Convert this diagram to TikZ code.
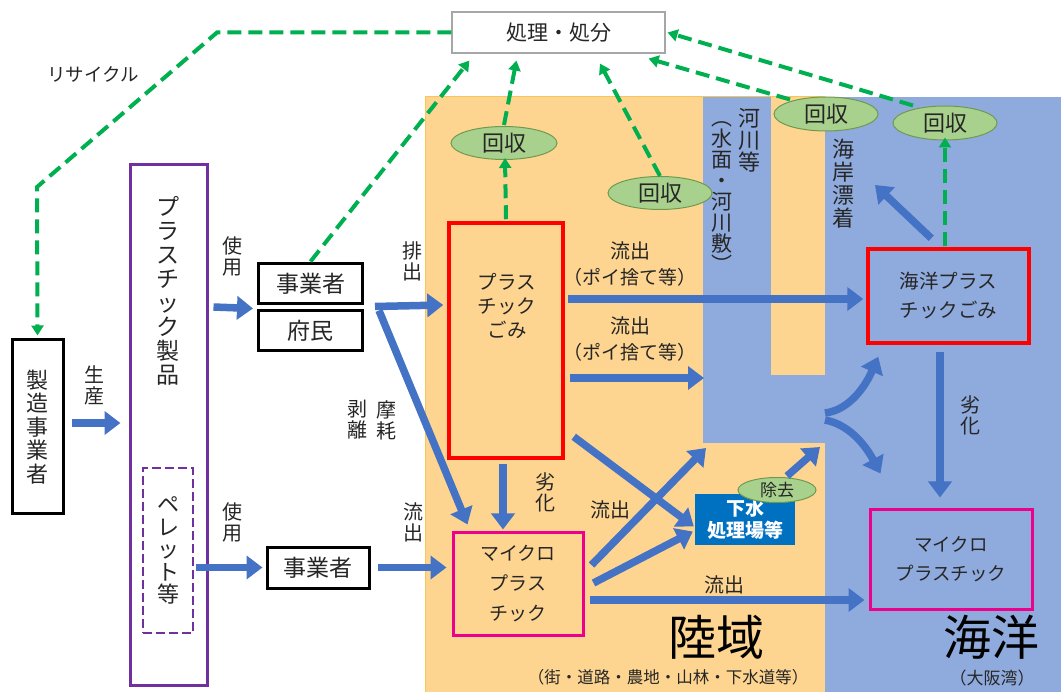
\documentclass[tikz,border=0pt]{standalone}
\usepackage{fontspec}
\setmainfont{Noto Sans CJK JP}
\usetikzlibrary{arrows.meta,calc,shapes.geometric}
\definecolor{landc}{HTML}{FED590}
\definecolor{landedge}{HTML}{F5C75A}
\definecolor{seac}{HTML}{8FAADC}
\definecolor{arrowblue}{HTML}{4472C4}
\definecolor{recgreen}{HTML}{00B050}
\definecolor{ellfill}{HTML}{A9D18E}
\definecolor{ellgreen}{HTML}{6F9A4E}
\definecolor{gesuiblue}{HTML}{0070C0}
\definecolor{purp}{HTML}{7030A0}
\definecolor{txt}{HTML}{262626}
\begin{document}
\begin{tikzpicture}[x=1pt,y=-1pt,
  barrow/.style={draw=arrowblue, line width=7.5pt, -{Triangle[width=23pt,length=16pt]}},
  garrow/.style={draw=recgreen, line width=4pt, dash pattern=on 14pt off 7pt, -{Triangle[width=12pt,length=10pt]}},
  lbl/.style={font=\fontsize{20}{23}\selectfont, align=center, inner sep=0pt, text=txt},
  vlbl/.style={font=\fontsize{20}{21}\selectfont, align=center, inner sep=0pt, text=txt},
  kaishu/.style={ellipse, draw=ellgreen, fill=ellfill, line width=1pt, minimum width=104pt, minimum height=33pt, inner sep=0pt, font=\fontsize{22}{24}\selectfont, text=txt},
  blackbox/.style={draw=black, line width=3pt, fill=white, inner sep=0pt, font=\fontsize{23}{25}\selectfont, text=txt},
  redbox/.style={draw=red, line width=3.5pt, inner sep=0pt, text=txt},
  magbox/.style={draw=magenta, line width=3pt, inner sep=0pt, text=txt, align=center}
]
\useasboundingbox (0,0) rectangle (1061,692);
% regions
\fill[landc] (425,97) rectangle (825,692);
\draw[landedge, line width=1pt] (425,692) -- (425,97) -- (825,97);
\fill[seac] (825,97) rectangle (1061,692);
\fill[seac] (703,97) rectangle (771,443);
\fill[seac] (771,375) rectangle (825,443);

% nodes
\node[draw=gray!70, line width=1.2pt, fill=white, minimum width=213pt, minimum height=41pt, inner sep=0pt, font=\fontsize{21}{24}\selectfont, text=txt] (shori) at (558.5,32.5) {処理・処分};
\node[blackbox, minimum width=51pt, minimum height=174pt, align=center, font=\fontsize{22}{23.5}\selectfont] (seizo) at (37.5,427) {製\\造\\事\\業\\者};
\node[draw=purp, line width=3pt, minimum width=77pt, minimum height=521pt, inner sep=0pt] (seihin) at (168.5,425) {};
\node[font=\fontsize{23}{24}\selectfont, align=center, inner sep=0pt, text=txt] (seihintxt) at (168,291) {プ\\ラ\\ス\\チ\\ッ\\ク\\製\\品};
\node[draw=purp, line width=2.5pt, dash pattern=on 9pt off 4pt, minimum width=50pt, minimum height=165pt, inner sep=0pt, align=center, font=\fontsize{22}{22.5}\selectfont, text=txt] (pellet) at (168,550.5) {ペ\\レ\\ッ\\ト\\等};
\node[blackbox, minimum width=104pt, minimum height=40pt] (jig1) at (310.5,284) {事業者};
\node[blackbox, minimum width=104pt, minimum height=40pt] (fumin) at (310.5,331) {府民};
\node[blackbox, minimum width=102pt, minimum height=41pt] (jig2) at (318,567.5) {事業者};

\node[redbox, minimum width=114pt, minimum height=235pt] (gomi) at (506,340.5) {};
\node[font=\fontsize{19.5}{24}\selectfont, align=center, inner sep=0pt, text=txt] (gomitxt) at (507,306) {プラス\\チック\\ごみ};
\node[redbox, minimum width=161pt, minimum height=94pt, align=center, font=\fontsize{19.5}{29}\selectfont] (kgomi) at (948.5,296) {海洋プラス\\チックごみ};
\node[magbox, minimum width=130pt, minimum height=102pt, font=\fontsize{19}{30}\selectfont] (micro1) at (518,584) {マイクロ\\プラス\\チック};
\node[magbox, minimum width=162pt, minimum height=99pt, font=\fontsize{18.5}{29}\selectfont] (micro2) at (951,559.5) {マイクロ\\プラスチック};
\node[fill=gesuiblue, minimum width=100pt, minimum height=51pt, inner sep=0pt, align=center, text=white, font=\bfseries\fontsize{19}{22}\selectfont] (gesui) at (745,519.5) {下水\\処理場等};
\node[kaishu, minimum width=78pt, minimum height=25pt, font=\fontsize{17}{18}\selectfont] (jokyo) at (777,490) {除去};

\node[kaishu, minimum width=106pt] (kaishu1) at (504,143) {回収};
\node[kaishu] (kaishu2) at (660,193) {回収};
\node[kaishu, minimum height=34pt] (kaishu3) at (826,114) {回収};
\node[kaishu, minimum height=34pt] (kaishu4) at (945,123) {回収};

% free ends
\coordinate (riverin) at (704,378);
\coordinate (riverb) at (706,448);
\coordinate (riverc) at (820,447);
\coordinate (junc1) at (825,413);
\coordinate (junc2) at (825,420);
\coordinate (coast) at (875,185);
\coordinate (rc1) at (217,32.5);
\coordinate (rc2) at (37,187);

% labels
\node[lbl, font=\fontsize{18.5}{21}\selectfont] (recycle) at (93,74) {リサイクル};
\node[vlbl] (seisan) at (94,385) {生\\産};
\node[vlbl] (shiyo1) at (232,256) {使\\用};
\node[vlbl] (shiyo2) at (232,522) {使\\用};
\node[vlbl] (haishutsu) at (412,261) {排\\出};
\node[vlbl] (ryu0) at (413,522) {流\\出};
\node[vlbl] (mamo) at (386,420) {摩\\耗};
\node[vlbl] (hakuri) at (357,420) {剥\\離};
\node[lbl] (ryu1) at (630,251) {流出};
\node[lbl, font=\fontsize{19}{21}\selectfont] (poi1) at (630,277) {（ポイ捨て等）};
\node[lbl] (ryu2) at (630,326) {流出};
\node[lbl, font=\fontsize{19}{21}\selectfont] (poi2) at (630,352) {（ポイ捨て等）};
\node[vlbl] (rekka1) at (545,492) {劣\\化};
\node[lbl] (ryu3) at (610,510) {流出};
\node[lbl] (ryu4) at (724,585) {流出};
\node[vlbl] (rekka2) at (970,415) {劣\\化};
\node[font=\fontsize{22}{22}\selectfont, align=center, inner sep=0pt, text=txt] (kasen) at (749,140) {河\\川\\等};
\node[font=\fontsize{21}{21}\selectfont, align=center, inner sep=0pt, text=txt] (kasen2) at (722,197) {︵\\水\\面\\・\\河\\川\\敷\\︶};
\node[font=\fontsize{22}{23}\selectfont, align=center, inner sep=0pt, text=txt] (kaigan) at (843,184) {海\\岸\\漂\\着};
\node[font=\fontsize{48}{50}\selectfont, inner sep=0pt, text=black] (rikuiki) at (716,637) {陸域};
\node[font=\fontsize{48}{50}\selectfont, inner sep=0pt, text=black] (kaiyo) at (991,637) {海洋};
\node[font=\fontsize{16.5}{18}\selectfont, inner sep=0pt, text=txt] (rikucap) at (668,677) {（街・道路・農地・山林・下水道等）};
\node[font=\fontsize{17}{18}\selectfont, inner sep=0pt, text=txt] (kaicap) at (992,678) {（大阪湾）};

% blue arrows
\draw[barrow] ($(seizo.east)+(7,-4)$) -- ($(seihin.west)+(-8,-2)$);
\draw[barrow] ($(seihin.east)+(5,-118)$) -- ($(jig1.south west)+(-4,3)$);
\draw[barrow] ($(pellet.east)+(2,17)$) -- ($(jig2.west)+(-3,0)$);
\draw[barrow] ($(jig2.east)+(7,0)$) -- ($(micro1.west)+(-5,-16.5)$);
\draw[barrow] ($(jig1.south east)+(11,1)$) -- ($(gomi.west)+(-4,-35.5)$);
\draw[barrow] ($(fumin.north east)+(15,1)$) -- ($(micro1.north west)+(16,-7)$);
\draw[barrow] ($(gomi.south)+(-3,4)$) -- ($(micro1.north)+(-15,-2)$);
\draw[barrow] ($(gomi.east)+(3,-41.5)$) -- ($(kgomi.west)+(-3,3)$);
\draw[barrow] ($(gomi.east)+(5,37.5)$) -- (riverin);
\draw[barrow] ($(gomi.south east)+(9,-23)$) -- ($(gesui.west)+(-1,7)$);
\draw[barrow] ($(micro1.east)+(7,-19)$) -- (riverb);
\draw[barrow] ($(micro1.east)+(9,-1)$) -- ($(gesui.west)+(-2,12)$);
\draw[barrow] ($(micro1.east)+(5,16)$) -- ($(micro2.west)+(-4,40.5)$);
\draw[barrow] ($(jokyo.north)+(10,-1)$) -- (riverc);
\draw[barrow] (junc1) .. controls (850,410) and (866,385) .. ($(kgomi.south west)+(12,12)$);
\draw[barrow] (junc2) .. controls (852,425) and (868,450) .. ($(micro2.north west)+(12,-35)$);
\draw[barrow] ($(kgomi.south)+(-8.5,7)$) -- ($(micro2.north)+(-11,-11)$);
\draw[barrow] ($(kgomi.north west)+(65,-9)$) -- (coast);

% green dashed arrows
\draw[garrow] (shori.west) -- (rc1) -- (rc2) -- ($(seizo.north)+(0,-3)$);
\draw[garrow] ($(jig1.north)+(0,-1)$) -- ($(shori.south west)+(18,7)$);
\draw[garrow] ($(gomi.north)+(0,-2)$) -- ($(kaishu1.south)+(1,-2)$);
\draw[garrow] ($(kaishu1.north)+(0,-1)$) -- ($(shori.south west)+(65,7)$);
\draw[garrow] (kaishu2.north) -- ($(shori.south)+(41.5,10)$);
\draw[garrow] ($(kaishu3.north)+(-36,3)$) -- ($(shori.south east)+(-17,5)$);
\draw[garrow] ($(kaishu4.north)+(-32,0)$) -- ($(shori.east)+(2,0)$);
\draw[garrow] ($(kgomi.north)+(-3.5,-1)$) -- ($(kaishu4.south)+(0,-3)$);
\end{tikzpicture}
\end{document}
